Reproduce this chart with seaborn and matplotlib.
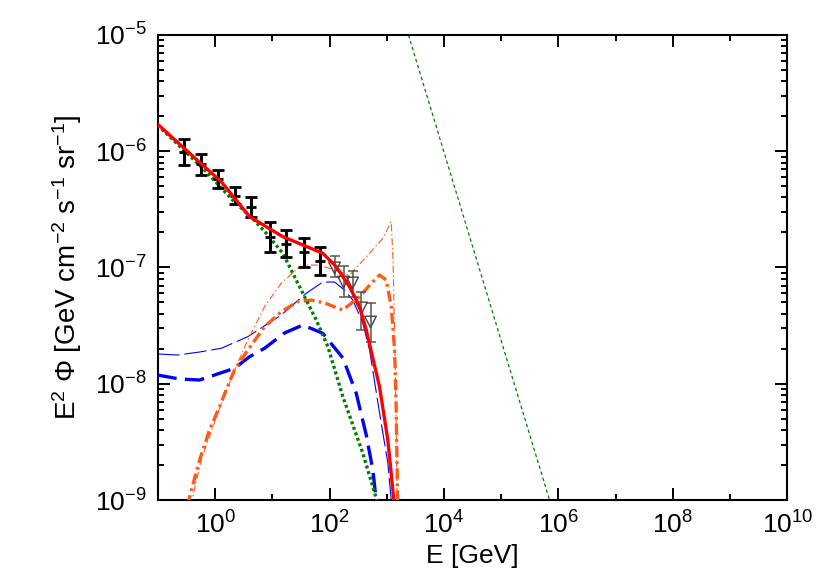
import numpy as np
import pandas as pd
import matplotlib
matplotlib.use("Agg")
import matplotlib.pyplot as plt
import seaborn as sns
from matplotlib.ticker import FixedLocator, LogFormatterSciNotation, NullFormatter

# ---------------- data (log10 values) ----------------
# measured points (black)
pts_logE = [-0.549, -0.245, 0.045, 0.337, 0.629, 0.949, 1.241, 1.544, 1.840]
pts_logY = [-6.006, -6.114, -6.239, -6.381, -6.480, -6.738, -6.794, -6.871, -6.944]
pts_hi = [-5.895, -6.024, -6.161, -6.308, -6.394, -6.609, -6.677, -6.746, -6.824]
pts_lo = [-6.118, -6.204, -6.316, -6.454, -6.566, -6.867, -6.910, -6.996, -7.065]

# grey points with triangles
gry_logE = [2.086, 2.243, 2.400, 2.557, 2.715]
gry_logY = [-7.004, -7.125, -7.133, -7.348, -7.469]
gry_hi = [-6.900, -6.987, -7.030, -7.210, -7.305]
gry_lo = [-7.080, -7.254, -7.254, -7.540, -7.640]

# total (red)
red_logE = [-1.01, -0.479, 0.105, 0.600, 1.182, 1.881, 2.115, 2.348, 2.523, 2.640, 2.872, 3.017, 3.105, 3.130]
red_logY = [-5.766, -6.004, -6.262, -6.563, -6.735, -6.878, -6.993, -7.165, -7.337, -7.538, -8.025, -8.484, -8.914, -9.05]

# green thick dotted
gth_logE = [-1.01, -0.187, 0.337, 0.629, 0.892, 1.182, 1.474, 1.766, 1.969, 2.231, 2.580, 2.815, 2.83]
gth_logY = [-5.774, -6.161, -6.437, -6.566, -6.706, -6.878, -7.165, -7.452, -7.681, -8.111, -8.598, -8.985, -9.05]

# green thin dotted (power law)
gtn_logE = [3.378, 5.844]
gtn_logY = [-5.0, -9.0]

# blue thick long dash
bth_logE = [-1.01, -0.624, -0.274, 0.337, 0.600, 0.862, 1.212, 1.531, 1.881, 2.231, 2.465, 2.640, 2.755, 2.825]
bth_logY = [-7.925, -7.959, -7.968, -7.867, -7.767, -7.695, -7.563, -7.495, -7.566, -7.778, -8.082, -8.441, -8.742, -9.05]

# blue thin long dash
btn_logE = [-1.01, -0.659, -0.274, 0.105, 0.570, 1.154, 1.591, 1.881, 2.086, 2.260, 2.406, 2.580, 2.698, 2.872, 3.017, 3.085]
btn_logY = [-7.744, -7.753, -7.727, -7.695, -7.595, -7.409, -7.222, -7.125, -7.125, -7.194, -7.280, -7.480, -7.710, -8.250, -8.680, -9.05]

# orange thick dash-dot
oth_logE = [-0.49, -0.274, -0.100, 0.075, 0.250, 0.337, 0.570, 0.862, 1.154, 1.444, 1.678, 1.911, 2.231,
            2.523, 2.733, 2.872, 2.990, 3.077, 3.105, 3.135, 3.161, 3.190]
oth_logY = [-9.05, -8.656, -8.398, -8.197, -7.982, -7.882, -7.710, -7.509, -7.380, -7.294, -7.280, -7.305, -7.366,
            -7.251, -7.133, -7.065, -7.108, -7.337, -7.509, -7.710, -8.140, -9.05]

# orange thin dash-dot
otn_logE = [-0.43, -0.245, 0.045, 0.337, 0.570, 0.862, 1.154, 1.444, 1.591, 1.823, 2.086, 2.348, 2.640,
            2.930, 3.077, 3.108, 3.135, 3.161, 3.182]
otn_logY = [-9.05, -8.656, -8.252, -7.882, -7.624, -7.337, -7.136, -7.007, -6.979, -6.979, -7.022, -7.065, -6.910,
            -6.749, -6.606, -6.935, -7.538, -8.312, -9.05]

x_label = "E [GeV]"
y_label = r"E$^{2}$ $\Phi$ [GeV cm$^{-2}$ s$^{-1}$ sr$^{-1}$]"

# ---------------- styling ----------------
sns.set_style("ticks")
plt.rcParams["font.family"] = ["Liberation Sans", "DejaVu Sans"]
plt.rcParams["mathtext.fontset"] = "custom"
plt.rcParams["mathtext.rm"] = "Liberation Sans"
plt.rcParams["mathtext.it"] = "Liberation Sans:italic"
plt.rcParams["mathtext.bf"] = "Liberation Sans:bold"
plt.rcParams["axes.unicode_minus"] = False
plt.rcParams["lines.scale_dashes"] = False
plt.rcParams["text.color"] = "black"
plt.rcParams["axes.labelcolor"] = "black"
plt.rcParams["xtick.color"] = "black"
plt.rcParams["ytick.color"] = "black"

fig = plt.figure(figsize=(8.3, 5.81), dpi=100)
ax = fig.add_axes([0.1904, 0.1394, 0.9485 - 0.1904, 0.9398 - 0.1394])


def curve(lx, ly, **kw):
    df = pd.DataFrame({"E": 10.0 ** np.array(lx), "F": 10.0 ** np.array(ly)})
    sns.lineplot(data=df, x="E", y="F", ax=ax, sort=False, estimator=None, legend=False, **kw)


curve(gtn_logE, gtn_logY, color="#008000", lw=0.9, linestyle=(0, (2.5, 2.0)), zorder=2)
curve(btn_logE, btn_logY, color="#0000ff", lw=0.8, linestyle=(0, (16, 3.5)), zorder=2)
curve(otn_logE, otn_logY, color="#ff5a1a", lw=0.8, linestyle=(0, (5, 2, 1, 2)), zorder=2)
curve(bth_logE, bth_logY, color="#0000ff", lw=2.4, linestyle=(0, (14, 6)), zorder=3)
curve(oth_logE, oth_logY, color="#ff5a1a", lw=2.4, linestyle=(0, (8, 3, 2, 3)), zorder=3)
curve(gth_logE, gth_logY, color="#008000", lw=2.4, linestyle=(0, (2.2, 2.0)), zorder=3)

# grey points
gx = 10.0 ** np.array(gry_logE)
gy = 10.0 ** np.array(gry_logY)
gerr = [gy - 10.0 ** np.array(gry_lo), 10.0 ** np.array(gry_hi) - gy]
ax.errorbar(gx, gy, yerr=gerr, fmt="none", ecolor="#555555", elinewidth=1.1, capsize=3.8, capthick=1.1, zorder=4)
sns.scatterplot(x=gx, y=gy, ax=ax, marker="v", s=70, facecolor="none", edgecolor="#444444", linewidth=1.0,
                zorder=4, legend=False)

# black points
px = 10.0 ** np.array(pts_logE)
py = 10.0 ** np.array(pts_logY)
perr = [py - 10.0 ** np.array(pts_lo), 10.0 ** np.array(pts_hi) - py]
ax.errorbar(px, py, yerr=perr, fmt="_", color="black", ms=7, mew=2, elinewidth=2.2, capsize=4.2, capthick=2.2,
            zorder=4)

# red total on top
curve(red_logE, red_logY, color="#ff0000", lw=2.4, linestyle="-", zorder=5)

ax.set_xscale("log")
ax.set_yscale("log")
ax.set_xlim(1e-1, 1e10)
ax.set_ylim(1e-9, 1e-5)

ax.xaxis.set_major_locator(FixedLocator([10.0 ** k for k in range(0, 11, 2)]))
ax.xaxis.set_minor_locator(FixedLocator([10.0 ** k for k in range(-1, 11, 2)]))
ax.xaxis.set_major_formatter(LogFormatterSciNotation())
ax.xaxis.set_minor_formatter(NullFormatter())
ax.yaxis.set_major_locator(FixedLocator([10.0 ** k for k in range(-9, -4)]))
ax.yaxis.set_minor_locator(FixedLocator([m * 10.0 ** k for k in range(-9, -5) for m in range(2, 10)]))
ax.yaxis.set_major_formatter(LogFormatterSciNotation())
ax.yaxis.set_minor_formatter(NullFormatter())

ax.tick_params(which="both", direction="in", top=True, right=True, colors="black", labelsize=19, width=1.4)
ax.tick_params(which="major", length=8.5, pad=8)
ax.tick_params(which="minor", length=4.5)
for s in ax.spines.values():
    s.set_linewidth(1.5)
    s.set_color("black")
    s.set_visible(True)

ax.set_xlabel(x_label, fontsize=19, labelpad=4, color="black")
ax.set_ylabel(y_label, fontsize=20, labelpad=8, color="black")

fig.savefig("out.png", dpi=100)
